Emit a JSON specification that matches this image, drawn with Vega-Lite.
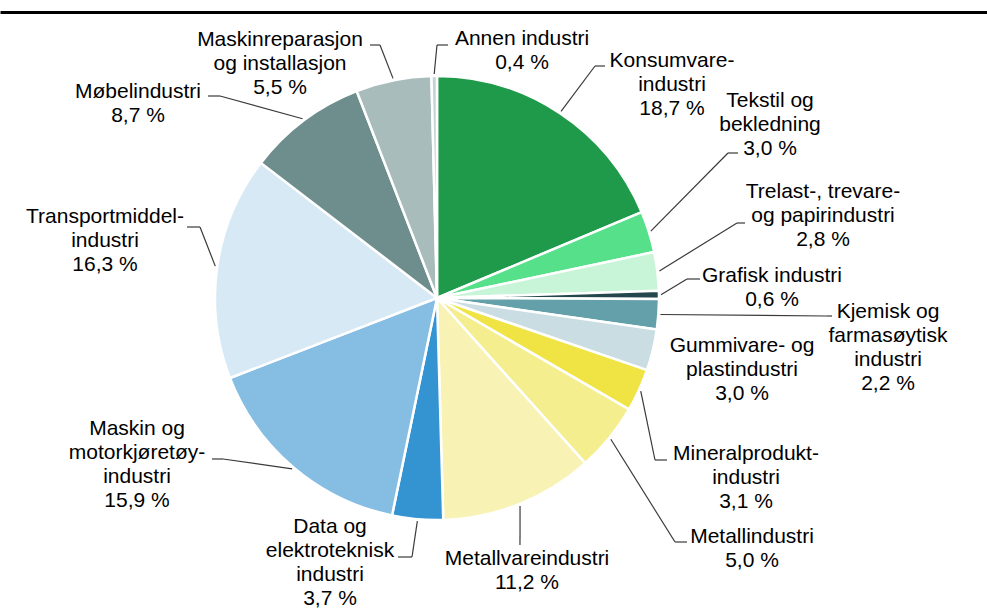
{
  "$schema": "https://vega.github.io/schema/vega-lite/v6.json",
  "width": 987,
  "height": 601,
  "autosize": {"type": "none"},
  "padding": {"top": 12, "left": 0, "right": 0, "bottom": 0},
  "background": "white",
  "config": {"view": {"stroke": null}},
  "data": {
    "values": [
      {"order": 1, "group": "Konsumvareindustri", "label": "Konsumvare-\nindustri", "pct": 18.7},
      {"order": 2, "group": "Tekstil og bekledning", "label": "Tekstil og\nbekledning", "pct": 3.0},
      {"order": 3, "group": "Trelast-, trevare- og papirindustri", "label": "Trelast-, trevare-\nog papirindustri", "pct": 2.8},
      {"order": 4, "group": "Grafisk industri", "label": "Grafisk industri", "pct": 0.6},
      {"order": 5, "group": "Kjemisk og farmasøytisk industri", "label": "Kjemisk og\nfarmasøytisk\nindustri", "pct": 2.2},
      {"order": 6, "group": "Gummivare- og plastindustri", "label": "Gummivare- og\nplastindustri", "pct": 3.0},
      {"order": 7, "group": "Mineralproduktindustri", "label": "Mineralprodukt-\nindustri", "pct": 3.1},
      {"order": 8, "group": "Metallindustri", "label": "Metallindustri", "pct": 5.0},
      {"order": 9, "group": "Metallvareindustri", "label": "Metallvareindustri", "pct": 11.2},
      {"order": 10, "group": "Data og elektroteknisk industri", "label": "Data og\nelektroteknisk\nindustri", "pct": 3.7},
      {"order": 11, "group": "Maskin og motorkjøretøyindustri", "label": "Maskin og\nmotorkjøretøy-\nindustri", "pct": 15.9},
      {"order": 12, "group": "Transportmiddelindustri", "label": "Transportmiddel-\nindustri", "pct": 16.3},
      {"order": 13, "group": "Møbelindustri", "label": "Møbelindustri", "pct": 8.7},
      {"order": 14, "group": "Maskinreparasjon og installasjon", "label": "Maskinreparasjon\nog installasjon", "pct": 5.5},
      {"order": 15, "group": "Annen industri", "label": "Annen industri", "pct": 0.4}
    ]
  },
  "transform": [
    {"window": [{"op": "sum", "field": "pct", "as": "cum"}], "sort": [{"field": "order", "order": "ascending"}], "frame": [null, 0]},
    {"joinaggregate": [{"op": "sum", "field": "pct", "as": "total"}]},
    {"calculate": "2 * PI * (datum.cum - datum.pct / 2) / datum.total", "as": "mid"},
    {"calculate": "224 * sin(datum.mid)", "as": "sx"},
    {"calculate": "224 * cos(datum.mid)", "as": "sy"},
    {"calculate": "[[235,231,158,232,168],[333,191,291,145,301],[386,100,300,75,308],[335,16,250,19,263],[451,-20,390,-18,395],[305,-54,305,-54,305],[309,-162,218,-162,230],[315,-245,238,-244,250],[90,-267,83,-247,83],[-107,-235,-25,-259,-39],[-300,-137,-214,-161,-225],[-332,75,-237,71,-250],[-299,200,-217,202,-229],[-157,252,-57,253,-67],[85,253,0,253,11]][datum.order - 1]", "as": "lay"},
    {"calculate": "datum.lay[0]", "as": "lx"},
    {"calculate": "datum.lay[1]", "as": "ly"},
    {"calculate": "datum.lay[2]", "as": "bx"},
    {"calculate": "datum.lay[3]", "as": "by"},
    {"calculate": "datum.lay[4]", "as": "ex"},
    {"calculate": "datum.label + '\\n' + replace(format(datum.pct, '.1f'), '.', ',') + ' %'", "as": "text"}
  ],
  "layer": [
    {
      "mark": {"type": "arc", "outerRadius": 222, "stroke": "white", "strokeWidth": 2.5},
      "encoding": {
        "theta": {"field": "pct", "type": "quantitative", "stack": true},
        "order": {"field": "order", "type": "quantitative", "sort": "ascending"},
        "color": {
          "field": "group",
          "type": "nominal",
          "legend": null,
          "scale": {
            "domain": ["Konsumvareindustri", "Tekstil og bekledning", "Trelast-, trevare- og papirindustri", "Grafisk industri", "Kjemisk og farmasøytisk industri", "Gummivare- og plastindustri", "Mineralproduktindustri", "Metallindustri", "Metallvareindustri", "Data og elektroteknisk industri", "Maskin og motorkjøretøyindustri", "Transportmiddelindustri", "Møbelindustri", "Maskinreparasjon og installasjon", "Annen industri"],
            "range": ["#1f9a4a", "#56e08a", "#c8f5d8", "#24474e", "#64a0aa", "#c9dde2", "#f0e444", "#f5ee8e", "#f8f3b4", "#3494d2", "#86bde3", "#d6e9f5", "#6e8e8e", "#a8bcbb", "#c3d3d6"]
          }
        },
        "x": {"datum": 0, "type": "quantitative", "scale": {"domain": [-437, 550], "zero": false, "nice": false}, "axis": {"orient": "top", "domain": true, "domainColor": "black", "domainWidth": 3, "ticks": false, "labels": false, "grid": false, "title": null}},
        "y": {"datum": 0, "type": "quantitative", "scale": {"domain": [-315, 286], "zero": false, "nice": false}, "axis": null}
      }
    },
    {
      "transform": [{"filter": "datum.order != 6"}],
      "mark": {"type": "rule", "color": "#3a3a3a", "strokeWidth": 1.2},
      "encoding": {
        "x": {"field": "sx", "type": "quantitative", "scale": {"domain": [-437, 550], "zero": false, "nice": false}, "axis": {"orient": "top", "domain": true, "domainColor": "black", "domainWidth": 3, "ticks": false, "labels": false, "grid": false, "title": null}},
        "y": {"field": "sy", "type": "quantitative", "scale": {"domain": [-315, 286], "zero": false, "nice": false}, "axis": null},
        "x2": {"field": "bx"},
        "y2": {"field": "by"}
      }
    },
    {
      "transform": [{"filter": "datum.order != 6"}],
      "mark": {"type": "rule", "color": "#3a3a3a", "strokeWidth": 1.2},
      "encoding": {
        "x": {"field": "bx", "type": "quantitative", "scale": {"domain": [-437, 550], "zero": false, "nice": false}, "axis": {"orient": "top", "domain": true, "domainColor": "black", "domainWidth": 3, "ticks": false, "labels": false, "grid": false, "title": null}},
        "y": {"field": "by", "type": "quantitative", "scale": {"domain": [-315, 286], "zero": false, "nice": false}, "axis": null},
        "x2": {"field": "ex"},
        "y2": {"field": "by"}
      }
    },
    {
      "mark": {"type": "text", "font": "Liberation Sans", "fontSize": 21, "lineHeight": 24, "lineBreak": "\n", "align": "center", "baseline": "alphabetic", "color": "black"},
      "encoding": {
        "x": {"field": "lx", "type": "quantitative", "scale": {"domain": [-437, 550], "zero": false, "nice": false}, "axis": {"orient": "top", "domain": true, "domainColor": "black", "domainWidth": 3, "ticks": false, "labels": false, "grid": false, "title": null}},
        "y": {"field": "ly", "type": "quantitative", "scale": {"domain": [-315, 286], "zero": false, "nice": false}, "axis": null},
        "text": {"field": "text", "type": "nominal"}
      }
    }
  ]
}
